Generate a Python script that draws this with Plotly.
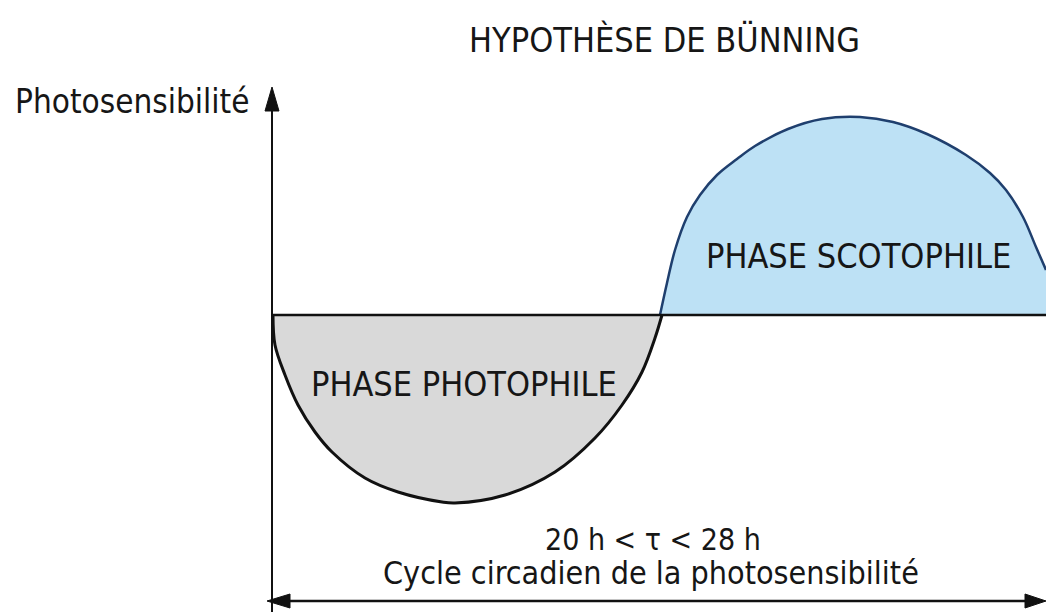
import plotly.graph_objects as go

# ---- data (x: time along the cycle, y: photosensitivity relative to baseline) ----
photophile_t = [273, 275, 285, 298, 315, 332, 365, 398, 442, 455, 505, 555, 595, 622, 642, 655, 662]
photophile_s = [0, -30, -60, -90, -117, -137, -163, -177, -187, -188, -180, -157, -123, -90, -57, -23, 0]

scotophile_t = [660, 667, 675, 687, 700, 717, 737, 755, 788, 822, 860, 893, 927, 966, 990, 1006, 1023, 1036, 1046]
scotophile_s = [0, 32, 65, 98, 120, 140, 156, 169, 186, 196, 198, 193, 181, 160, 142, 125, 98, 68, 45]

title_text = "HYPOTHÈSE DE BÜNNING"
y_label = "Photosensibilité"
photo_label = "PHASE PHOTOPHILE"
scoto_label = "PHASE SCOTOPHILE"
period_label = "20 h < τ < 28 h"
cycle_label = "Cycle circadien de la photosensibilité"

W, H = 1046, 615
BASE = 315  # baseline pixel row


def py(p):
    """pixel row -> data y"""
    return BASE - p


FONT = "Liberation Sans Narrow, Arial Narrow, DejaVu Sans Condensed, Liberation Sans, Arial, sans-serif"
TXT = "#161616"

fig = go.Figure()

fig.add_trace(go.Scatter(
    x=photophile_t, y=photophile_s, mode="lines", line=dict(color="#111111", width=3, shape="spline", smoothing=1.0),
    fill="tozeroy", fillcolor="#d9d9d9", hoverinfo="skip"))
fig.add_trace(go.Scatter(
    x=scotophile_t, y=scotophile_s, mode="lines", line=dict(color="#1f3f6e", width=2.5, shape="spline", smoothing=1.0),
    fill="tozeroy", fillcolor="#bde1f5", hoverinfo="skip"))

shapes = [
    # baseline
    dict(type="line", x0=272, x1=1046, y0=0, y1=0, line=dict(color="#111111", width=2.5), layer="above"),
    # vertical axis
    dict(type="line", x0=272, x1=272, y0=py(105), y1=py(612), line=dict(color="#111111", width=2), layer="above"),
    # bottom double arrow line
    dict(type="line", x0=285, x1=1032, y0=py(601), y1=py(601), line=dict(color="#111111", width=2.5), layer="above"),
]


def tri(points):
    d = "M " + " L ".join(f"{x},{y}" for x, y in points) + " Z"
    return dict(type="path", path=d, fillcolor="#111111", line=dict(color="#111111", width=1), layer="above")


shapes.append(tri([(272, py(87)), (265, py(111)), (279, py(111))]))
shapes.append(tri([(267, py(601)), (290, py(594)), (290, py(608))]))
shapes.append(tri([(1046, py(601)), (1025, py(594)), (1025, py(608))]))

annotations = [
    dict(x=664, y=py(40), text=title_text, font=dict(size=34, family=FONT, color=TXT)),
    dict(x=251, y=py(101), text=y_label, xanchor="right", font=dict(size=33, family=FONT, color=TXT)),
    dict(x=858, y=py(256), text=scoto_label, font=dict(size=34, family=FONT, color=TXT)),
    dict(x=464, y=py(384), text=photo_label, font=dict(size=34, family=FONT, color=TXT)),
    dict(x=653, y=py(539), text=period_label, font=dict(size=30, family=FONT, color=TXT)),
    dict(x=651, y=py(573), text=cycle_label, font=dict(size=32, family=FONT, color=TXT)),
]
for a in annotations:
    a.update(showarrow=False, xref="x", yref="y")
    a.setdefault("xanchor", "center")
    a["yanchor"] = "middle"

fig.update_layout(
    width=W, height=H, margin=dict(l=0, r=0, t=0, b=0),
    paper_bgcolor="white", plot_bgcolor="white", showlegend=False,
    xaxis=dict(range=[0, W], visible=False, fixedrange=True),
    yaxis=dict(range=[py(H), py(0)], visible=False, fixedrange=True),
    shapes=shapes, annotations=annotations,
)

fig.write_html("out.html", config={"displayModeBar": False},
               post_script="document.body.style.margin='0px';document.body.style.overflow='hidden';")
